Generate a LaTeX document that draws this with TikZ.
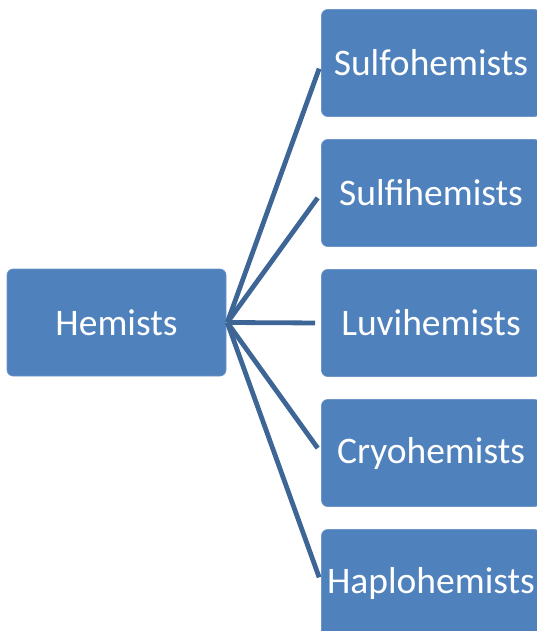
\documentclass[tikz,border=0pt]{standalone}
\usepackage{fontspec}
\setmainfont{Carlito}
\usepackage{xcolor}
\usetikzlibrary{positioning, calc}
\definecolor{hemblue}{HTML}{4F81BD}
\definecolor{hemedge}{HTML}{6E96C8}
\definecolor{hemline}{HTML}{3D6595}

\tikzset{
  hembox/.style={fill=hemblue, draw=hemedge, line width=0.6pt, rounded corners=6pt,
    minimum width=219pt, minimum height=107pt, text=white,
    font=\fontsize{37.5}{41}\selectfont},
  hemlink/.style={draw=hemline, line width=4.8pt, shorten >=6pt}
}

\begin{document}
\begin{tikzpicture}[x=1pt, y=1pt]
  \useasboundingbox (0,0) rectangle (537,-631);
  \node[hembox] (hemists) at (116.5,-322.5) {Hemists};
  \node[hembox] (luvi) at (431,-323) {Luvihemists};
  \node[hembox, above=22.4pt of luvi] (sulfi) {Sulfihemists};
  \node[hembox, above=22.4pt of sulfi] (sulfo) {Sulfohemists};
  \node[hembox, below=22.4pt of luvi] (cryo) {Cryohemists};
  \node[hembox, below=22.4pt of cryo] (haplo) {Haplohemists};
  % links from the root to each kind
  \foreach \kind in {sulfo, sulfi, luvi, cryo, haplo}
    \draw[hemlink] ([xshift=1pt]hemists.east) -- (\kind.west);
\end{tikzpicture}
\end{document}
